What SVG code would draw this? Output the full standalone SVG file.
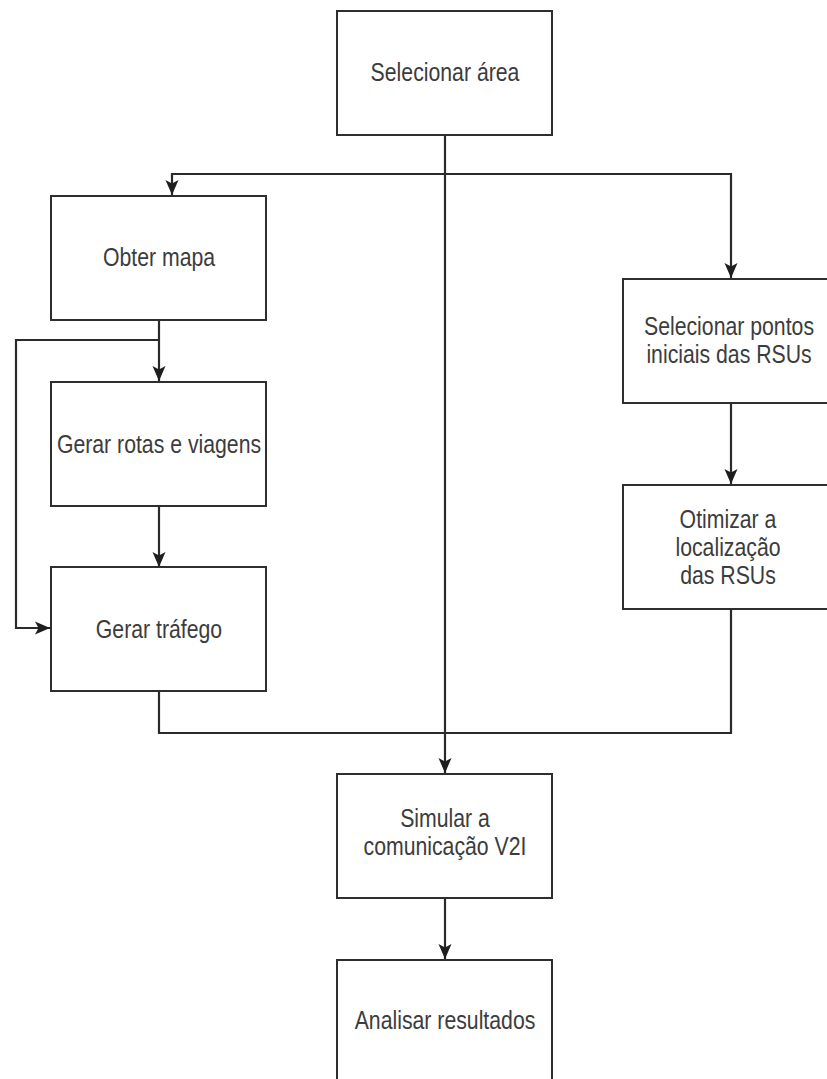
<svg xmlns="http://www.w3.org/2000/svg" width="827" height="1079" viewBox="0 0 827 1079">
<style>
.box{fill:#fff;stroke:#2e2e2e;stroke-width:2}
.lbl{font-family:"Liberation Sans",Arial,sans-serif;font-size:25px;fill:#3c3c3c;text-anchor:middle}
.edge{fill:none;stroke:#2a2a2a;stroke-width:2.2}
</style>
<defs>
<marker id="arr" markerUnits="userSpaceOnUse" markerWidth="16" markerHeight="16" viewBox="0 0 16 16" refX="15" refY="8" orient="auto">
<path d="M0,1.5 L15,8 L0,14.5 L3.5,8 z" fill="#1e1e1e"/>
</marker>
</defs>
<rect width="827" height="1079" fill="#fff"/>
<g id="connectors">
<path class="edge" d="M445,135 L445,773" marker-end="url(#arr)"/>
<path class="edge" d="M445,174 L172,174 L172,195" marker-end="url(#arr)"/>
<path class="edge" d="M445,174 L731,174 L731,278" marker-end="url(#arr)"/>
<path class="edge" d="M159,320 L159,381" marker-end="url(#arr)"/>
<path class="edge" d="M159,340 L16,340 L16,628 L50,628" marker-end="url(#arr)"/>
<path class="edge" d="M159,506 L159,567" marker-end="url(#arr)"/>
<path class="edge" d="M731,403 L731,484" marker-end="url(#arr)"/>
<path class="edge" d="M159,691 L159,733 L731,733 L731,609"/>
<path class="edge" d="M445,898 L445,959" marker-end="url(#arr)"/>
</g>
<g id="n-selecionar-area">
<rect class="box" x="337" y="11" width="215" height="124"/>
<text class="lbl" transform="translate(445,81) scale(0.85,1)">Selecionar área</text>
</g>
<g id="n-obter-mapa">
<rect class="box" x="51" y="196" width="215" height="124"/>
<text class="lbl" transform="translate(159,266) scale(0.85,1)">Obter mapa</text>
</g>
<g id="n-gerar-rotas">
<rect class="box" x="51" y="382" width="215" height="124"/>
<text class="lbl" transform="translate(159,453) scale(0.85,1)">Gerar rotas e viagens</text>
</g>
<g id="n-gerar-trafego">
<rect class="box" x="51" y="567" width="215" height="124"/>
<text class="lbl" transform="translate(159,638) scale(0.85,1)">Gerar tráfego</text>
</g>
<g id="n-selecionar-pontos">
<rect class="box" x="623" y="279" width="215" height="124"/>
<text class="lbl" transform="translate(729,335) scale(0.85,1)"><tspan x="0" y="0">Selecionar pontos</tspan><tspan x="0" y="28">iniciais das RSUs</tspan></text>
</g>
<g id="n-otimizar">
<rect class="box" x="623" y="485" width="215" height="124"/>
<text class="lbl" transform="translate(728,528) scale(0.85,1)"><tspan x="0" y="0">Otimizar a</tspan><tspan x="0" y="28">localização</tspan><tspan x="0" y="56">das RSUs</tspan></text>
</g>
<g id="n-simular">
<rect class="box" x="337" y="774" width="215" height="124"/>
<text class="lbl" transform="translate(445,827) scale(0.85,1)"><tspan x="0" y="0">Simular a</tspan><tspan x="0" y="28">comunicação V2I</tspan></text>
</g>
<g id="n-analisar">
<rect class="box" x="337" y="960" width="215" height="124"/>
<text class="lbl" transform="translate(445,1029) scale(0.85,1)">Analisar resultados</text>
</g>
</svg>
